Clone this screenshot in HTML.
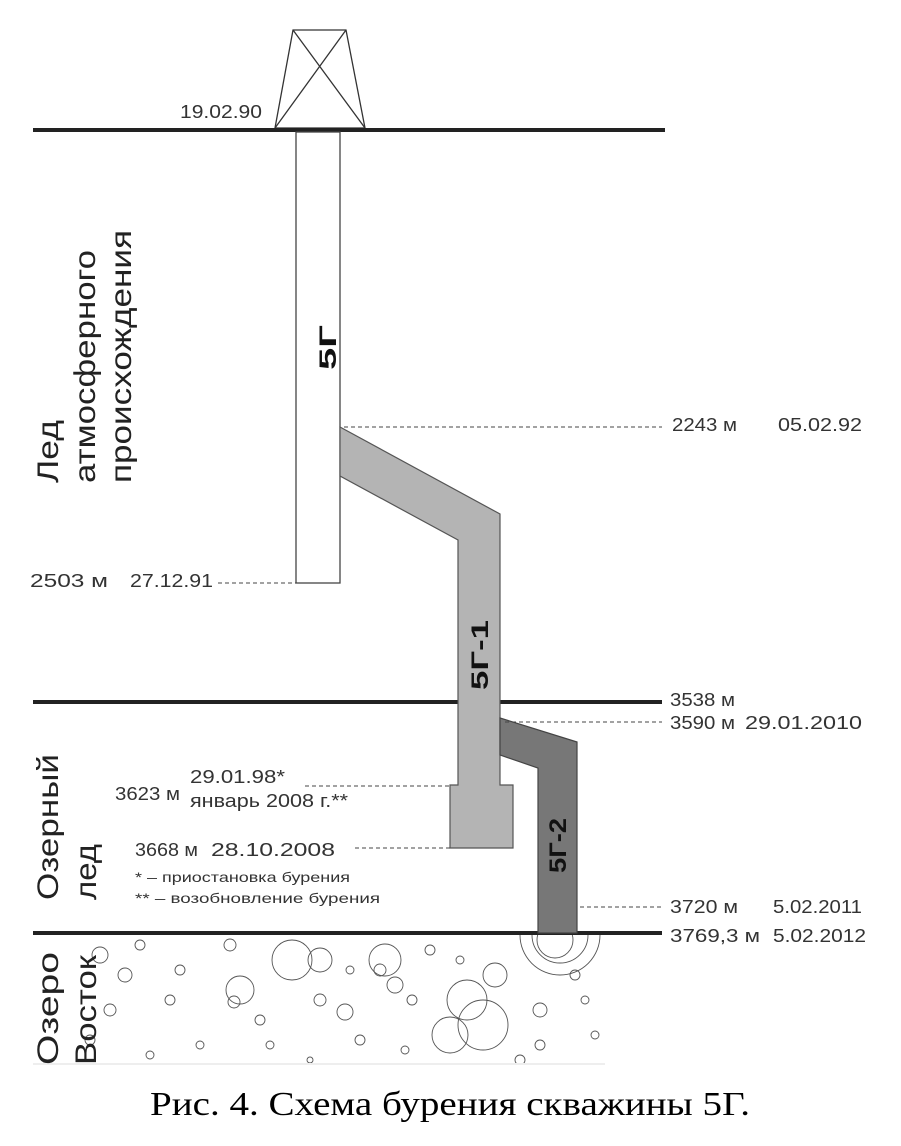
<!DOCTYPE html>
<html><head><meta charset="utf-8"><style>
html,body{margin:0;padding:0;background:#fff;}
svg text{font-family:"Liberation Sans",sans-serif;}
</style></head><body>
<svg width="901" height="1141" viewBox="0 0 901 1141" xmlns="http://www.w3.org/2000/svg">
<defs><clipPath id="lake"><rect x="33" y="935" width="572" height="130"/></clipPath></defs>
<rect width="901" height="1141" fill="#fff"/>
<!-- derrick -->
<g stroke="#333" stroke-width="1.3" fill="none">
<polygon points="293,30 346,30 365,128 275,128"/>
<line x1="293" y1="30" x2="365" y2="128"/>
<line x1="346" y1="30" x2="275" y2="128"/>
</g>
<!-- lines -->
<rect x="33" y="128" width="632" height="4" fill="#222"/>
<rect x="33" y="700" width="629" height="4" fill="#222"/>
<rect x="33" y="931" width="629" height="4" fill="#222"/>
<!-- 5G -->
<rect x="296" y="132" width="44" height="451" fill="#fff" stroke="#444" stroke-width="1.3"/>
<!-- 5G-1 -->
<polygon points="340,427 500,514 500,785 513,785 513,848 450,848 450,785 458,785 458,540 340,476" fill="#b4b4b4" stroke="#555" stroke-width="1.2"/>
<!-- 5G-2 -->
<polygon points="500,718 577,742 577,933 538,933 538,768 500,755" fill="#777" stroke="#444" stroke-width="1.2"/>
<!-- dashed -->
<g stroke="#444" stroke-width="1" stroke-dasharray="4,3">
<line x1="344" y1="427" x2="662" y2="427"/>
<line x1="218" y1="583" x2="296" y2="583"/>
<line x1="505" y1="722" x2="662" y2="722"/>
<line x1="305" y1="786" x2="450" y2="786"/>
<line x1="355" y1="848" x2="450" y2="848"/>
<line x1="580" y1="907" x2="662" y2="907"/>
</g>
<!-- labels -->
<g font-size="18" fill="#333">
<text x="180" y="118" textLength="82" lengthAdjust="spacingAndGlyphs">19.02.90</text>
<text x="672" y="431" textLength="65" lengthAdjust="spacingAndGlyphs">2243 м</text>
<text x="778" y="431" textLength="84" lengthAdjust="spacingAndGlyphs">05.02.92</text>
<text x="30" y="587" textLength="78" lengthAdjust="spacingAndGlyphs">2503 м</text>
<text x="130" y="587" textLength="83" lengthAdjust="spacingAndGlyphs">27.12.91</text>
<text x="670" y="706" textLength="65" lengthAdjust="spacingAndGlyphs">3538 м</text>
<text x="670" y="729" textLength="65" lengthAdjust="spacingAndGlyphs">3590 м</text>
<text x="745" y="729" textLength="117" lengthAdjust="spacingAndGlyphs">29.01.2010</text>
<text x="115" y="800" textLength="65" lengthAdjust="spacingAndGlyphs">3623 м</text>
<text x="190" y="783" textLength="95" lengthAdjust="spacingAndGlyphs">29.01.98*</text>
<text x="190" y="807" textLength="158" lengthAdjust="spacingAndGlyphs">январь 2008 г.**</text>
<text x="135" y="856" textLength="63" lengthAdjust="spacingAndGlyphs">3668 м</text>
<text x="211" y="856" textLength="124" lengthAdjust="spacingAndGlyphs">28.10.2008</text>
<text x="670" y="913" textLength="68" lengthAdjust="spacingAndGlyphs">3720 м</text>
<text x="773" y="913" textLength="89" lengthAdjust="spacingAndGlyphs">5.02.2011</text>
<text x="670" y="942" textLength="90" lengthAdjust="spacingAndGlyphs">3769,3 м</text>
<text x="773" y="942" textLength="93" lengthAdjust="spacingAndGlyphs">5.02.2012</text>
</g>
<g font-size="14" fill="#333">
<text x="135" y="882" textLength="215" lengthAdjust="spacingAndGlyphs">*  – приостановка бурения</text>
<text x="135" y="903" textLength="245" lengthAdjust="spacingAndGlyphs">** – возобновление бурения</text>
</g>
<!-- well labels -->
<g font-weight="bold" font-size="24" fill="#111">
<text transform="translate(336,370) rotate(-90)" textLength="45" lengthAdjust="spacingAndGlyphs">5Г</text>
<text transform="translate(488,690) rotate(-90)" textLength="70" lengthAdjust="spacingAndGlyphs">5Г-1</text>
<text transform="translate(566,873) rotate(-90)" textLength="55" lengthAdjust="spacingAndGlyphs">5Г-2</text>
</g>
<!-- big rotated -->
<g font-size="30" fill="#222">
<text transform="translate(58,483) rotate(-90)" textLength="63" lengthAdjust="spacingAndGlyphs">Лед</text>
<text transform="translate(95,483) rotate(-90)" textLength="233" lengthAdjust="spacingAndGlyphs">атмосферного</text>
<text transform="translate(131,483) rotate(-90)" textLength="253" lengthAdjust="spacingAndGlyphs">происхождения</text>
<text transform="translate(58,900) rotate(-90)" textLength="146" lengthAdjust="spacingAndGlyphs">Озерный</text>
<text transform="translate(96,900) rotate(-90)" textLength="56" lengthAdjust="spacingAndGlyphs">лед</text>
</g>
<!-- bubbles -->
<g stroke="#555" stroke-width="0.9" fill="none" clip-path="url(#lake)">
<circle cx="560" cy="935" r="40"/><circle cx="560" cy="935" r="28"/><circle cx="555" cy="940" r="18"/>
<circle cx="240" cy="990" r="14"/><circle cx="234" cy="1002" r="6"/>
<circle cx="292" cy="960" r="20"/><circle cx="320" cy="960" r="12"/>
<circle cx="385" cy="960" r="16"/><circle cx="380" cy="970" r="6"/>
<circle cx="467" cy="1000" r="20"/><circle cx="483" cy="1025" r="25"/><circle cx="450" cy="1035" r="18"/>
<circle cx="395" cy="985" r="8"/><circle cx="412" cy="1000" r="5"/>
<circle cx="495" cy="975" r="12"/><circle cx="320" cy="1000" r="6"/><circle cx="345" cy="1012" r="8"/>
<circle cx="170" cy="1000" r="5"/><circle cx="260" cy="1020" r="5"/><circle cx="540" cy="1010" r="7"/>
<circle cx="100" cy="955" r="8"/><circle cx="125" cy="975" r="7"/><circle cx="110" cy="1010" r="6"/>
<circle cx="90" cy="1040" r="5"/><circle cx="150" cy="1055" r="4"/><circle cx="200" cy="1045" r="4"/>
<circle cx="430" cy="950" r="5"/><circle cx="460" cy="960" r="4"/><circle cx="360" cy="1040" r="5"/>
<circle cx="540" cy="1045" r="5"/><circle cx="595" cy="1035" r="4"/><circle cx="520" cy="1060" r="5"/>
<circle cx="180" cy="970" r="5"/><circle cx="140" cy="945" r="5"/><circle cx="270" cy="1045" r="4"/>
<circle cx="310" cy="1060" r="3"/><circle cx="405" cy="1050" r="4"/><circle cx="575" cy="975" r="5"/>
<circle cx="585" cy="1000" r="4"/><circle cx="350" cy="970" r="4"/><circle cx="230" cy="945" r="6"/>
</g>
<rect x="33" y="1063" width="572" height="2" fill="#eee"/>
<g font-size="30" fill="#222">
<text transform="translate(58,1065) rotate(-90)" textLength="113" lengthAdjust="spacingAndGlyphs">Озеро</text>
<text transform="translate(96,1065) rotate(-90)" textLength="110" lengthAdjust="spacingAndGlyphs">Восток</text>
</g>
<text x="150" y="1115" textLength="600" lengthAdjust="spacingAndGlyphs" style="font-family:'Liberation Serif',serif" font-size="34" fill="#000">Рис. 4. Схема бурения скважины 5Г.</text>
</svg>
</body></html>
